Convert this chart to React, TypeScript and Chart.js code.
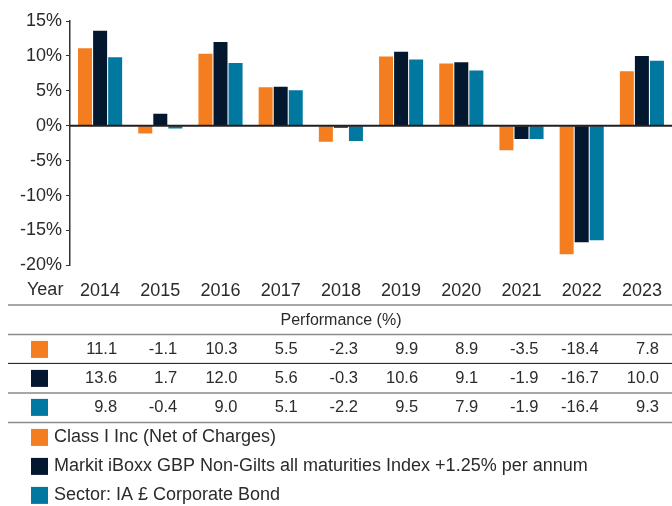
import React, { useEffect, useRef } from 'react';
import { Chart, registerables } from 'chart.js';

Chart.register(...registerables);

const years = ['2014', '2015', '2016', '2017', '2018', '2019', '2020', '2021', '2022', '2023'];
const classIInc = [11.1, -1.1, 10.3, 5.5, -2.3, 9.9, 8.9, -3.5, -18.4, 7.8];
const benchmark = [13.6, 1.7, 12.0, 5.6, -0.3, 10.6, 9.1, -1.9, -16.7, 10.0];
const sector = [9.8, -0.4, 9.0, 5.1, -2.2, 9.5, 7.9, -1.9, -16.4, 9.3];
const seriesNames = [
  'Class I Inc (Net of Charges)',
  'Markit iBoxx GBP Non-Gilts all maturities Index +1.25% per annum',
  'Sector: IA £ Corporate Bond',
];
const seriesColors = ['#F47D20', '#03182F', '#0078A0'];
const yMin = -20;
const yMax = 15;
const yStep = 5;
const yearLabel = 'Year';
const tableTitle = 'Performance (%)';

const FONT = '"Liberation Sans", Arial, Helvetica, sans-serif';
const TEXT = '#2b2b2b';

const tablePlugin = {
  id: 'perfTable',
  afterDraw(chart: any) {
    const ctx = chart.ctx as CanvasRenderingContext2D;
    const xs = chart.scales.x;
    const ys = chart.scales.y;
    const area = chart.chartArea;
    const W = chart.width;
    const series = [classIInc, benchmark, sector];
    ctx.save();

    // zero line
    const y0 = ys.getPixelForValue(0);
    ctx.strokeStyle = '#231F20';
    ctx.lineWidth = 2;
    ctx.beginPath();
    ctx.moveTo(area.left, y0);
    ctx.lineTo(W, y0);
    ctx.stroke();

    const base = area.bottom;
    ctx.font = '18px ' + FONT;
    ctx.fillStyle = TEXT;
    ctx.textBaseline = 'middle';
    ctx.textAlign = 'left';
    ctx.fillText(yearLabel, 27, base + 25);

    // table lines
    const hline = (y: number, color: string, w: number) => {
      ctx.strokeStyle = color;
      ctx.lineWidth = w;
      ctx.beginPath();
      ctx.moveTo(8, y);
      ctx.lineTo(W, y);
      ctx.stroke();
    };
    hline(base + 39.5, '#8a8a8a', 1.5);
    hline(base + 69, '#8a8a8a', 1.5);
    hline(base + 98, '#111111', 1);
    hline(base + 127.5, '#8a8a8a', 1.5);
    hline(base + 157, '#8a8a8a', 1.5);

    ctx.font = '16px ' + FONT;
    ctx.textAlign = 'center';
    ctx.fillText(tableTitle, 341, base + 55);

    ctx.font = '16.5px ' + FONT;
    series.forEach((vals, r) => {
      const cy = base + 84 + r * 29;
      ctx.fillStyle = seriesColors[r];
      ctx.fillRect(31, cy - 8.5, 17, 17);
      ctx.fillStyle = TEXT;
      ctx.textAlign = 'right';
      vals.forEach((v, i) => {
        ctx.fillText(v.toFixed(1), xs.getPixelForValue(i) + 17, cy);
      });
    });

    // legend
    ctx.font = '18px ' + FONT;
    ctx.textAlign = 'left';
    seriesNames.forEach((name, r) => {
      const cy = base + 172 + r * 29;
      ctx.fillStyle = seriesColors[r];
      ctx.fillRect(31, cy - 8.5, 17, 17);
      ctx.fillStyle = TEXT;
      ctx.fillText(name, 54, cy);
    });
    ctx.restore();
  },
};

export default function App() {
  const ref = useRef<HTMLCanvasElement | null>(null);
  useEffect(() => {
    if (!ref.current) return;
    const chart = new Chart(ref.current, {
      type: 'bar',
      data: {
        labels: years,
        datasets: [classIInc, benchmark, sector].map((d, i) => ({
          label: seriesNames[i],
          data: d,
          backgroundColor: seriesColors[i],
          borderWidth: 0,
          barPercentage: 0.93,
          categoryPercentage: 0.75,
        })),
      },
      options: {
        responsive: false,
        animation: false,
        layout: { padding: { top: 21, left: 0, right: 0, bottom: 197 } },
        plugins: { legend: { display: false }, tooltip: { enabled: false } },
        scales: {
          x: {
            grid: { display: false },
            border: { display: false },
            ticks: { color: TEXT, font: { family: FONT, size: 18 }, padding: 7, maxRotation: 0 },
          },
          y: {
            min: yMin,
            max: yMax,
            afterFit: (s: any) => {
              s.width = 70;
            },
            border: { display: true, color: '#333', width: 1.5 },
            grid: { drawOnChartArea: false, drawTicks: true, tickLength: 4, color: '#333' },
            ticks: {
              stepSize: yStep,
              color: TEXT,
              padding: 4,
              font: { family: FONT, size: 18 },
              callback: (v: any) => v + '%',
            },
          },
        },
      },
      plugins: [tablePlugin],
    });
    return () => chart.destroy();
  }, []);
  return (
    <div style={{ position: 'fixed', left: 0, top: 0, width: 672, height: 506, background: '#fff' }}>
      <canvas ref={ref} width={672} height={506} />
    </div>
  );
}
